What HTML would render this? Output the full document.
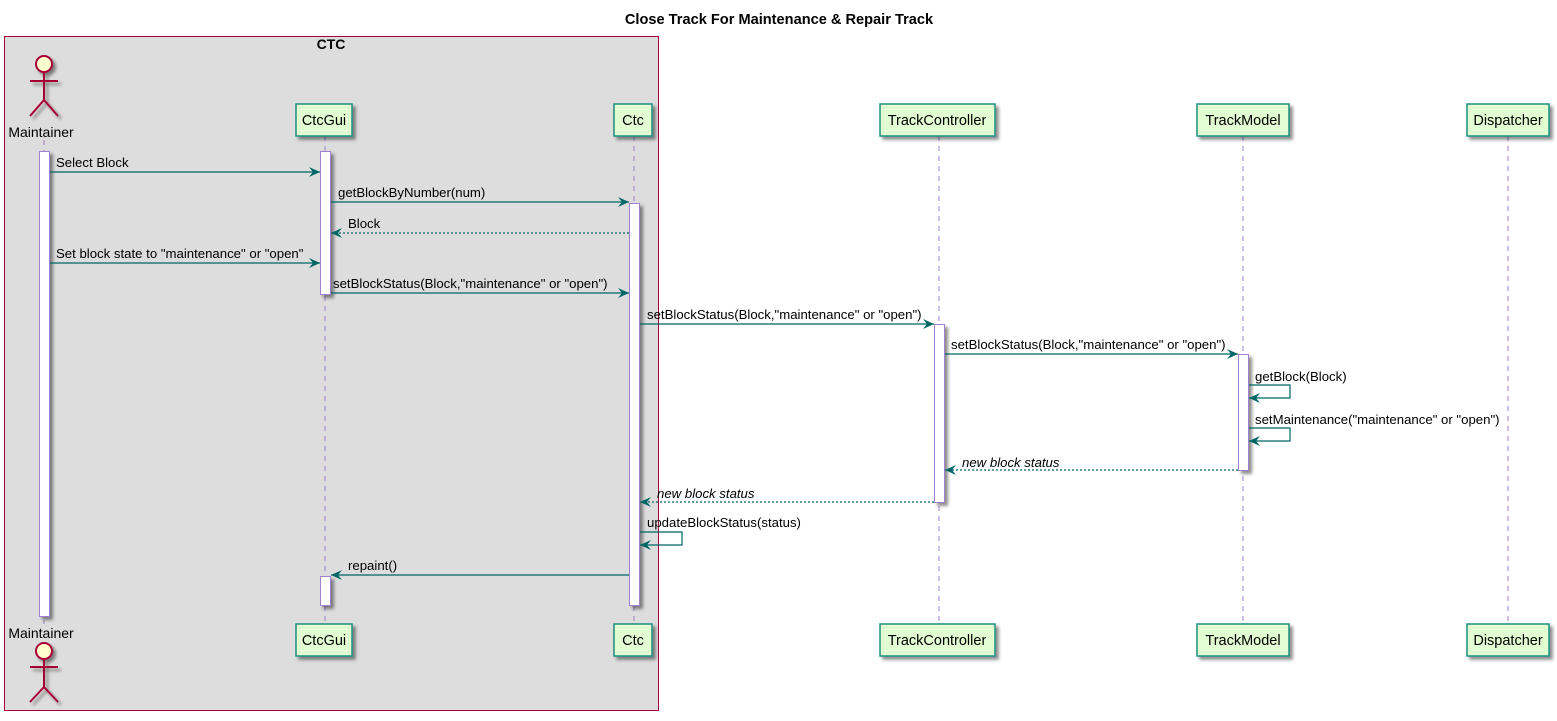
<!DOCTYPE html>
<html><head><meta charset="utf-8"><style>
html,body{margin:0;padding:0;background:#fff;}
svg{display:block;}
text{font-family:"Liberation Sans",Arial,sans-serif;font-size:13.2px;fill:#000;}
text.p{font-size:14.5px;}
</style></head><body>
<svg width="1557" height="721" viewBox="0 0 1557 721" xmlns="http://www.w3.org/2000/svg">
<defs>
<marker id="a" markerWidth="12" markerHeight="12" refX="11" refY="5" orient="auto" markerUnits="userSpaceOnUse">
<path d="M0,0 L11,5 L0,10 L4,5 Z" fill="#006666"/>
</marker>
<filter id="sh" x="-20%" y="-20%" width="150%" height="150%"><feDropShadow dx="3" dy="3" stdDeviation="1.5" flood-color="#000" flood-opacity="0.45"/></filter>
</defs>
<text x="779" y="24" text-anchor="middle" style="font-weight:bold;font-size:14.6px">Close Track For Maintenance &amp; Repair Track</text>
<rect x="4.5" y="36.5" width="654" height="674" fill="#dddddd" stroke="#a80036" stroke-width="1"/>
<text x="331" y="49" text-anchor="middle" style="font-weight:bold;font-size:14px">CTC</text>

<g stroke="#a080d0" stroke-width="1" stroke-dasharray="5,5">
<line x1="44" y1="140" x2="44" y2="624"/>
<line x1="325" y1="136" x2="325" y2="624"/>
<line x1="634" y1="136" x2="634" y2="624"/>
<line x1="939" y1="136" x2="939" y2="624"/>
<line x1="1243" y1="136" x2="1243" y2="624"/>
<line x1="1508" y1="136" x2="1508" y2="624"/>
</g>

<g fill="#fefece" stroke="#a80036" stroke-width="2" filter="url(#sh)">
<circle cx="44" cy="64" r="8"/>
<path d="M44,72 V100 M30,81 H58 M44,100 L30,116 M44,100 L58,116" fill="none"/>
<circle cx="44" cy="651" r="8"/>
<path d="M44,659 V687 M30,667 H58 M44,687 L30,702 M44,687 L58,702" fill="none"/>
</g>
<text x="41" y="137" text-anchor="middle" style="font-size:14px">Maintainer</text>
<text x="41" y="638" text-anchor="middle" style="font-size:14px">Maintainer</text>

<g fill="#e2fdd2" stroke="#1a9080" stroke-width="1.5" filter="url(#sh)">
<rect x="296" y="104" width="56" height="32"/>
<rect x="614" y="104" width="38" height="32"/>
<rect x="880" y="104" width="115" height="32"/>
<rect x="1197" y="104" width="92" height="32"/>
<rect x="1467" y="104" width="82" height="32"/>
<rect x="296" y="624" width="56" height="32"/>
<rect x="614" y="624" width="38" height="32"/>
<rect x="880" y="624" width="115" height="32"/>
<rect x="1197" y="624" width="92" height="32"/>
<rect x="1467" y="624" width="82" height="32"/>
</g>
<g text-anchor="middle">
<text class="p" x="324" y="125">CtcGui</text><text class="p" x="633" y="125">Ctc</text><text class="p" x="937" y="125">TrackController</text><text class="p" x="1243" y="125">TrackModel</text><text class="p" x="1508" y="125">Dispatcher</text>
<text class="p" x="324" y="645">CtcGui</text><text class="p" x="633" y="645">Ctc</text><text class="p" x="937" y="645">TrackController</text><text class="p" x="1243" y="645">TrackModel</text><text class="p" x="1508" y="645">Dispatcher</text>
</g>

<g fill="#fff" stroke="#a080d0" stroke-width="1" filter="url(#sh)">
<rect x="39.5" y="151.5" width="10" height="465"/>
<rect x="320.5" y="151.5" width="10" height="143"/>
<rect x="320.5" y="576.5" width="10" height="29"/>
<rect x="629.5" y="203.5" width="10" height="402"/>
<rect x="934.5" y="324.5" width="10" height="178"/>
<rect x="1238.5" y="354.5" width="10" height="116"/>
</g>

<g stroke="#006666" stroke-width="1.2" fill="none" marker-end="url(#a)">
<line x1="50" y1="172" x2="320" y2="172"/>
<line x1="331" y1="202" x2="629" y2="202"/>
<line x1="629" y1="233" x2="331" y2="233" stroke-dasharray="2,2"/>
<line x1="50" y1="263" x2="320" y2="263"/>
<line x1="331" y1="293" x2="629" y2="293"/>
<line x1="640" y1="324" x2="934" y2="324"/>
<line x1="945" y1="354" x2="1238" y2="354"/>
<polyline points="1249,385 1290,385 1290,398 1249,398"/>
<polyline points="1249,428 1290,428 1290,441 1249,441"/>
<line x1="1238" y1="470" x2="945" y2="470" stroke-dasharray="2,2"/>
<line x1="934" y1="502" x2="640" y2="502" stroke-dasharray="2,2"/>
<polyline points="640,532 682,532 682,545 640,545"/>
<line x1="629" y1="575" x2="331" y2="575"/>
</g>
<text x="56" y="167">Select Block</text>
<text x="338" y="197">getBlockByNumber(num)</text>
<text x="348" y="228">Block</text>
<text x="56" y="258">Set block state to "maintenance" or "open"</text>
<text x="333" y="288">setBlockStatus(Block,"maintenance" or "open")</text>
<text x="647" y="319">setBlockStatus(Block,"maintenance" or "open")</text>
<text x="951" y="349">setBlockStatus(Block,"maintenance" or "open")</text>
<text x="1255" y="381">getBlock(Block)</text>
<text x="1255" y="424">setMaintenance("maintenance" or "open")</text>
<text x="962" y="467" style="font-style:italic">new block status</text>
<text x="657" y="498" style="font-style:italic">new block status</text>
<text x="647" y="527">updateBlockStatus(status)</text>
<text x="348" y="570">repaint()</text>
</svg>
</body></html>
